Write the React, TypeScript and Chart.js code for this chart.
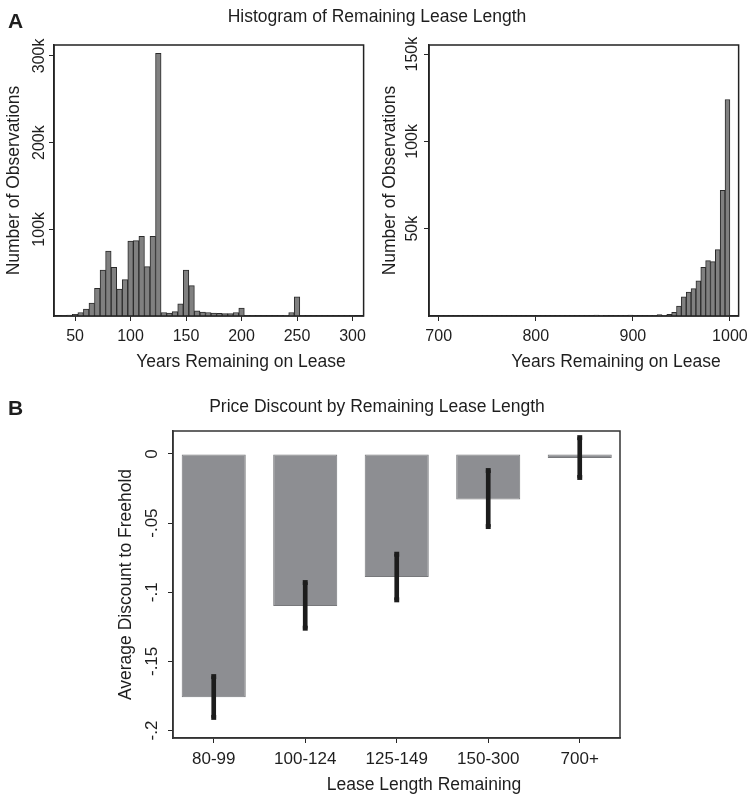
import React, { useEffect, useRef } from 'react';
import { Chart, registerables } from 'chart.js';

Chart.register(...registerables);

const FONT = "'Liberation Sans', Arial, Helvetica, sans-serif";
const TEXT = '#1e1e1e';
const AXIS = '#262626';

// ---- Panel A (left): 5-year bins, centers ----
const LEFT_YEARS = [40, 45, 50, 55, 60, 65, 70, 75, 80, 85, 90, 95, 100, 105, 110, 115, 120, 125, 130, 135, 140, 145, 150, 155, 160, 165, 170, 175, 180, 185, 190, 195, 200, 205, 210, 215, 220, 225, 230, 235, 240, 245, 250, 255, 260, 265, 270, 275, 280, 285, 290, 295, 300];
const LEFT_COUNTS = [300, 1000, 2000, 4000, 8000, 15000, 32000, 53000, 75000, 56000, 31000, 42000, 86500, 87000, 92000, 57000, 92000, 303000, 4000, 3500, 5000, 14000, 53000, 35000, 6000, 4600, 4000, 3500, 3000, 2700, 2700, 4000, 9000, 600, 400, 300, 300, 300, 300, 400, 800, 4000, 22000, 500, 300, 300, 300, 300, 300, 300, 300, 300, 600];
const LEFT_X_TICKS = [50, 100, 150, 200, 250, 300];
const LEFT_Y_TICKS = [100000, 200000, 300000];

// ---- Panel A (right) ----
const RIGHT_YEARS = [702.5, 707.5, 712.5, 717.5, 722.5, 727.5, 732.5, 737.5, 742.5, 747.5, 752.5, 757.5, 762.5, 767.5, 772.5, 777.5, 782.5, 787.5, 792.5, 797.5, 802.5, 807.5, 812.5, 817.5, 822.5, 827.5, 832.5, 837.5, 842.5, 847.5, 852.5, 857.5, 862.5, 867.5, 872.5, 877.5, 882.5, 887.5, 892.5, 897.5, 902.5, 907.5, 912.5, 917.5, 922.5, 927.5, 932.5, 937.5, 942.5, 947.5, 952.5, 957.5, 962.5, 967.5, 972.5, 977.5, 982.5, 987.5, 992.5, 997.5];
const RIGHT_COUNTS = [150, 150, 150, 150, 150, 150, 150, 150, 150, 150, 150, 150, 150, 150, 150, 150, 150, 150, 150, 150, 150, 150, 150, 150, 150, 150, 150, 150, 150, 150, 150, 150, 500, 400, 200, 150, 200, 300, 300, 500, 200, 150, 150, 200, 300, 800, 400, 900, 2100, 5700, 11000, 13700, 15700, 20200, 27900, 31700, 31100, 38000, 72000, 124000];
const RIGHT_X_TICKS = [700, 800, 900, 1000];
const RIGHT_Y_TICKS = [50000, 100000, 150000];

// ---- Panel B ----
const CATEGORIES = ['80-99', '100-124', '125-149', '150-300', '700+'];
const DISCOUNT = [-0.176, -0.11, -0.089, -0.033, -0.003];
const CI_LOW = [-0.1905, -0.126, -0.1055, -0.0525, -0.017];
const CI_HIGH = [-0.161, -0.093, -0.0725, -0.012, 0.0118];
const B_Y_TICKS = [-0.2, -0.15, -0.1, -0.05, 0];

const framePlugin = {
  id: 'frame',
  afterDraw(chart: any, _args: any, opts: any) {
    const { ctx, chartArea: a } = chart;
    ctx.save();
    ctx.strokeStyle = opts.color || AXIS;
    ctx.lineWidth = opts.width || 1.5;
    ctx.strokeRect(a.left, a.top, a.right - a.left, a.bottom - a.top);
    ctx.restore();
  },
};

const fmtB = (v: number) => {
  if (Math.abs(v) < 1e-9) return '0';
  const s = String(Math.round(v * 100) / 100);
  return s.replace('0.', '.');
};

function histConfig(p: any) {
  return {
    type: 'bar',
    data: {
      datasets: [
        {
          data: p.years.map((x: number, i: number) => ({ x, y: p.counts[i] })),
          backgroundColor: '#808080',
          borderColor: '#2b2b2b',
          borderWidth: 1,
          barPercentage: 1,
          categoryPercentage: 1,
        },
      ],
    },
    options: {
      responsive: false,
      animation: false,
      layout: { padding: p.padding },
      plugins: {
        legend: { display: false },
        tooltip: { enabled: false },
        frame: { color: '#222', width: 1.5 },
      },
      scales: {
        x: {
          type: 'linear',
          min: p.xMin,
          max: p.xMax,
          offset: false,
          afterBuildTicks: (s: any) => {
            s.ticks = p.xTicks.map((v: number) => ({ value: v }));
          },
          afterFit: (s: any) => {
            s.height = p.xHeight;
          },
          ticks: {
            color: TEXT,
            font: { family: FONT, size: 16 },
            padding: 6,
            minRotation: 0,
            maxRotation: 0,
            callback: (v: any) => String(v),
          },
          grid: { display: true, offset: false, drawOnChartArea: false, drawTicks: true, tickLength: 5, color: AXIS, lineWidth: 1 },
          border: { display: true, color: AXIS, width: 1.5 },
          title: { display: false },
        },
        y: {
          type: 'linear',
          min: 0,
          max: p.yMax,
          afterBuildTicks: (s: any) => {
            s.ticks = p.yTicks.map((v: number) => ({ value: v }));
          },
          afterFit: (s: any) => {
            s.width = p.yWidth;
          },
          ticks: {
            color: TEXT,
            font: { family: FONT, size: 16 },
            padding: p.yTickPad,
            minRotation: 90,
            maxRotation: 90,
            crossAlign: 'center',
            callback: (v: any) => v / 1000 + 'k',
          },
          grid: { display: true, drawOnChartArea: false, drawTicks: true, tickLength: 5, color: AXIS, lineWidth: 1 },
          border: { display: true, color: AXIS, width: 1.5 },
          title: {
            display: true,
            text: 'Number of Observations',
            color: TEXT,
            font: { family: FONT, size: 17.5, lineHeight: 1.2 },
            padding: { top: p.yTitlePad, bottom: 0 },
          },
        },
      },
    },
    plugins: [framePlugin],
  };
}

function discountConfig() {
  const caps: any[] = [];
  CI_LOW.forEach((lo, i) => {
    caps.push({ x: i, y: lo });
    caps.push({ x: i, y: CI_HIGH[i] });
  });
  return {
    type: 'bar',
    data: {
      datasets: [
        {
          type: 'bar',
          data: CI_LOW.map((lo, i) => ({ x: i, y: [lo, CI_HIGH[i]] })),
          backgroundColor: '#1c1c1c',
          borderWidth: 0,
          barThickness: 4,
          grouped: false,
          order: 1,
        },
        {
          type: 'line',
          data: caps,
          showLine: false,
          pointStyle: 'rect',
          pointRadius: 3.5,
          backgroundColor: '#1c1c1c',
          borderColor: '#1c1c1c',
          borderWidth: 0,
          order: 0,
        },
        {
          type: 'bar',
          data: DISCOUNT.map((v, i) => ({ x: i, y: v })),
          backgroundColor: '#8d8e92',
          borderColor: '#77787b',
          borderWidth: 1,
          borderSkipped: false,
          barPercentage: 0.7,
          categoryPercentage: 1,
          grouped: false,
          order: 2,
        },
      ],
    },
    options: {
      responsive: false,
      animation: false,
      layout: { padding: { left: 100, top: 51, right: 134, bottom: 0 } },
      plugins: {
        legend: { display: false },
        tooltip: { enabled: false },
        frame: { color: '#333', width: 1.5 },
      },
      scales: {
        x: {
          type: 'linear',
          min: -0.445,
          max: 4.44,
          offset: false,
          afterBuildTicks: (s: any) => {
            s.ticks = CATEGORIES.map((_, i) => ({ value: i }));
          },
          afterFit: (s: any) => {
            s.height = 58;
          },
          ticks: {
            color: TEXT,
            font: { family: FONT, size: 17 },
            padding: 6,
            minRotation: 0,
            maxRotation: 0,
            callback: (v: any) => CATEGORIES[Math.round(v)] ?? '',
          },
          grid: { display: true, offset: false, drawOnChartArea: false, drawTicks: true, tickLength: 5, color: AXIS, lineWidth: 1 },
          border: { display: true, color: '#333', width: 1.5 },
          title: { display: false },
        },
        y: {
          type: 'linear',
          min: -0.2054,
          max: 0.0166,
          afterBuildTicks: (s: any) => {
            s.ticks = B_Y_TICKS.map((v) => ({ value: v }));
          },
          afterFit: (s: any) => {
            s.width = 73;
          },
          ticks: {
            color: TEXT,
            font: { family: FONT, size: 17 },
            padding: 0.8,
            minRotation: 90,
            maxRotation: 90,
            crossAlign: 'center',
            callback: (v: any) => fmtB(v),
          },
          grid: { display: true, drawOnChartArea: false, drawTicks: true, tickLength: 5, color: AXIS, lineWidth: 1 },
          border: { display: true, color: '#333', width: 1.5 },
          title: {
            display: true,
            text: 'Average Discount to Freehold',
            color: TEXT,
            font: { family: FONT, size: 17.5, lineHeight: 1.2 },
            padding: { top: 15.5, bottom: 0 },
          },
        },
      },
    },
    plugins: [framePlugin],
  };
}

const textStyle = (extra: any) => ({
  position: 'absolute' as const,
  fontFamily: FONT,
  color: TEXT,
  lineHeight: 1,
  whiteSpace: 'nowrap' as const,
  ...extra,
});

export default function App() {
  const c1 = useRef<HTMLCanvasElement>(null);
  const c2 = useRef<HTMLCanvasElement>(null);
  const c3 = useRef<HTMLCanvasElement>(null);

  useEffect(() => {
    const charts: Chart[] = [];
    charts.push(
      new Chart(
        c1.current as HTMLCanvasElement,
        histConfig({
          years: LEFT_YEARS,
          counts: LEFT_COUNTS,
          xMin: 31,
          xMax: 310,
          xTicks: LEFT_X_TICKS,
          yMax: 312600,
          yTicks: LEFT_Y_TICKS,
          padding: { left: 0, top: 45, right: 4, bottom: 0 },
          xHeight: 64,
          yWidth: 54,
          yTickPad: -8.3,
          yTitlePad: 3.6,
        }) as any
      )
    );
    charts.push(
      new Chart(
        c2.current as HTMLCanvasElement,
        histConfig({
          years: RIGHT_YEARS,
          counts: RIGHT_COUNTS,
          xMin: 690,
          xMax: 1009,
          xTicks: RIGHT_X_TICKS,
          yMax: 155200,
          yTicks: RIGHT_Y_TICKS,
          padding: { left: 0, top: 45, right: 11, bottom: 0 },
          xHeight: 64,
          yWidth: 57,
          yTickPad: -5.8,
          yTitlePad: 7.5,
        }) as any
      )
    );
    charts.push(new Chart(c3.current as HTMLCanvasElement, discountConfig() as any));
    return () => charts.forEach((c) => c.destroy());
  }, []);

  return (
    <div style={{ position: 'absolute', left: 0, top: 0, width: 754, height: 796, background: '#fff', overflow: 'hidden' }}>
      <canvas ref={c1} width={372} height={380} style={{ position: 'absolute', left: 0, top: 0, width: 372, height: 380 }} />
      <canvas ref={c2} width={382} height={380} style={{ position: 'absolute', left: 372, top: 0, width: 382, height: 380 }} />
      <canvas ref={c3} width={754} height={416} style={{ position: 'absolute', left: 0, top: 380, width: 754, height: 416 }} />
      <div style={textStyle({ left: 8, top: 10, fontSize: 21, fontWeight: 'bold' })}>A</div>
      <div style={textStyle({ left: 0, top: 7.5, width: 754, textAlign: 'center', fontSize: 17.5 })}>
        Histogram of Remaining Lease Length
      </div>
      <div style={textStyle({ left: 241, top: 352.5, transform: 'translateX(-50%)', fontSize: 17.5 })}>
        Years Remaining on Lease
      </div>
      <div style={textStyle({ left: 616, top: 352.5, transform: 'translateX(-50%)', fontSize: 17.5 })}>
        Years Remaining on Lease
      </div>
      <div style={textStyle({ left: 8, top: 397, fontSize: 21, fontWeight: 'bold' })}>B</div>
      <div style={textStyle({ left: 0, top: 397.5, width: 754, textAlign: 'center', fontSize: 17.5 })}>
        Price Discount by Remaining Lease Length
      </div>
      <div style={textStyle({ left: 424, top: 775.5, transform: 'translateX(-50%)', fontSize: 17.5 })}>
        Lease Length Remaining
      </div>
    </div>
  );
}
